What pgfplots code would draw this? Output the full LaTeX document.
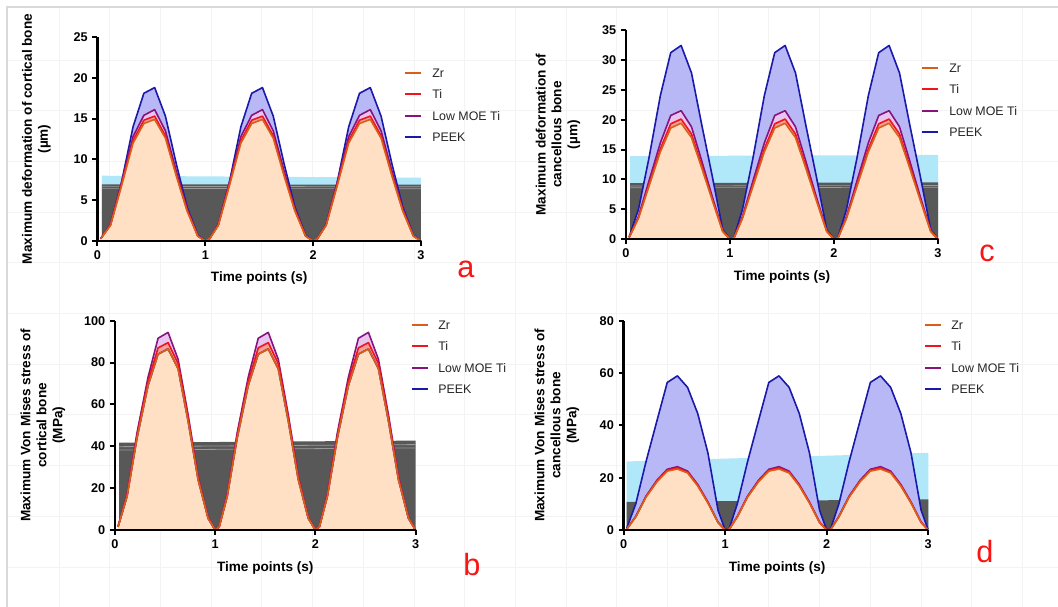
\documentclass[border=0pt]{standalone}
\usepackage{fontspec}
\setmainfont{Liberation Sans}
\usepackage{pgfplots}
\usepackage{pgfplotstable}
\pgfplotsset{compat=1.18}

\definecolor{zrl}{RGB}{215,95,25}
\definecolor{til}{RGB}{240,20,30}
\definecolor{lowl}{RGB}{135,20,125}
\definecolor{peekl}{RGB}{25,25,170}
\definecolor{zrf}{RGB}{255,224,196}
\definecolor{tif}{RGB}{245,160,150}
\definecolor{lowf}{RGB}{232,196,240}
\definecolor{peekf}{RGB}{184,184,246}
\definecolor{bandb}{RGB}{176,232,250}
\definecolor{bandd}{RGB}{88,88,88}
\definecolor{gridc}{RGB}{243,243,243}

% t, Zr, Ti, Low MOE Ti, PEEK
\pgfplotstableread{
t zr ti low peek
0.03 0.3 0.3 0.3 0.3
0.12 1.9 1.95 2.0 2.0
0.22 6.6 6.8 7.0 7.0
0.33 12.0 12.3 12.8 14.0
0.43 14.4 14.8 15.4 18.1
0.53 14.9 15.3 16.1 18.8
0.63 12.6 12.9 13.5 15.3
0.73 8.0 8.2 8.6 9.5
0.83 3.7 3.8 4.0 4.2
0.93 0.6 0.6 0.65 0.7
1.00 0 0 0 0
1.04 0.3 0.3 0.3 0.3
1.12 1.9 1.95 2.0 2.0
1.22 6.6 6.8 7.0 7.0
1.33 12.0 12.3 12.8 14.0
1.43 14.4 14.8 15.4 18.1
1.53 14.9 15.3 16.1 18.8
1.63 12.6 12.9 13.5 15.3
1.73 8.0 8.2 8.6 9.5
1.83 3.7 3.8 4.0 4.2
1.93 0.6 0.6 0.65 0.7
2.00 0 0 0 0
2.04 0.3 0.3 0.3 0.3
2.12 1.9 1.95 2.0 2.0
2.22 6.6 6.8 7.0 7.0
2.33 12.0 12.3 12.8 14.0
2.43 14.4 14.8 15.4 18.1
2.53 14.9 15.3 16.1 18.8
2.63 12.6 12.9 13.5 15.3
2.73 8.0 8.2 8.6 9.5
2.83 3.7 3.8 4.0 4.2
2.93 0.6 0.6 0.65 0.7
3.00 0 0 0 0
}\tA

\pgfplotstableread{
t zr ti low peek
0.03 0.3 0.3 0.3 0.4
0.12 3.5 3.6 3.8 5.0
0.22 8.8 9.1 9.7 13.5
0.33 14.6 15.1 16.1 24.0
0.43 18.6 19.3 20.7 31.2
0.53 19.4 20.1 21.5 32.4
0.63 17.0 17.6 18.8 27.8
0.73 11.8 12.2 13.0 19.0
0.83 6.5 6.7 7.1 10.5
0.93 1.3 1.35 1.4 1.6
1.00 0 0 0 0
1.04 0.3 0.3 0.3 0.4
1.12 3.5 3.6 3.8 5.0
1.22 8.8 9.1 9.7 13.5
1.33 14.6 15.1 16.1 24.0
1.43 18.6 19.3 20.7 31.2
1.53 19.4 20.1 21.5 32.4
1.63 17.0 17.6 18.8 27.8
1.73 11.8 12.2 13.0 19.0
1.83 6.5 6.7 7.1 10.5
1.93 1.3 1.35 1.4 1.6
2.00 0 0 0 0
2.04 0.3 0.3 0.3 0.4
2.12 3.5 3.6 3.8 5.0
2.22 8.8 9.1 9.7 13.5
2.33 14.6 15.1 16.1 24.0
2.43 18.6 19.3 20.7 31.2
2.53 19.4 20.1 21.5 32.4
2.63 17.0 17.6 18.8 27.8
2.73 11.8 12.2 13.0 19.0
2.83 6.5 6.7 7.1 10.5
2.93 1.3 1.35 1.4 1.6
3.00 0 0 0 0
}\tC

\pgfplotstableread{
t zr ti low peek
0.03 1.5 1.5 1.6 1.5
0.12 16 16.5 17 16
0.22 44 45 46.5 44
0.33 69 71 73 69
0.43 84 87 91.6 84
0.53 86.5 89.5 94.4 86.5
0.63 77 79.5 81.5 77
0.73 52 53.5 55 52
0.83 24 24.8 25.5 24
0.93 5.5 5.7 5.9 5.5
1.00 0 0 0 0
1.04 1.5 1.5 1.6 1.5
1.12 16 16.5 17 16
1.22 44 45 46.5 44
1.33 69 71 73 69
1.43 84 87 91.6 84
1.53 86.5 89.5 94.4 86.5
1.63 77 79.5 81.5 77
1.73 52 53.5 55 52
1.83 24 24.8 25.5 24
1.93 5.5 5.7 5.9 5.5
2.00 0 0 0 0
2.04 1.5 1.5 1.6 1.5
2.12 16 16.5 17 16
2.22 44 45 46.5 44
2.33 69 71 73 69
2.43 84 87 91.6 84
2.53 86.5 89.5 94.4 86.5
2.63 77 79.5 81.5 77
2.73 52 53.5 55 52
2.83 24 24.8 25.5 24
2.93 5.5 5.7 5.9 5.5
3.00 0 0 0 0
}\tB

\pgfplotstableread{
t zr ti low peek
0.03 0.3 0.3 0.3 0.6
0.12 5.0 5.1 5.2 10
0.22 12.5 12.7 12.9 26
0.33 18.5 18.8 19.1 42
0.43 22.5 22.8 23.2 56.4
0.53 23.3 23.7 24.2 58.9
0.63 21.8 22.1 22.5 54.5
0.73 16.8 17.1 17.4 44.5
0.83 10.3 10.5 10.7 29.5
0.93 2.8 2.9 3.0 7.5
1.00 0 0 0 0
1.04 0.3 0.3 0.3 0.6
1.12 5.0 5.1 5.2 10
1.22 12.5 12.7 12.9 26
1.33 18.5 18.8 19.1 42
1.43 22.5 22.8 23.2 56.4
1.53 23.3 23.7 24.2 58.9
1.63 21.8 22.1 22.5 54.5
1.73 16.8 17.1 17.4 44.5
1.83 10.3 10.5 10.7 29.5
1.93 2.8 2.9 3.0 7.5
2.00 0 0 0 0
2.04 0.3 0.3 0.3 0.6
2.12 5.0 5.1 5.2 10
2.22 12.5 12.7 12.9 26
2.33 18.5 18.8 19.1 42
2.43 22.5 22.8 23.2 56.4
2.53 23.3 23.7 24.2 58.9
2.63 21.8 22.1 22.5 54.5
2.73 16.8 17.1 17.4 44.5
2.83 10.3 10.5 10.7 29.5
2.93 2.8 2.9 3.0 7.5
3.00 0 0 0 0
}\tD

\pgfplotsset{
  panel/.style={
    scale only axis, axis on top, clip=false, anchor=south west,
    axis lines=left, axis line style={-, line width=1.8pt, black},
    tick align=outside, major tick length=3.8pt,
    tick style={black, line width=1.5pt},
    xmin=0, xmax=3, ymin=0, xtick={0,1,2,3},
    tick label style={font=\bfseries\fontsize{9.5}{10}\selectfont},
    label style={font=\bfseries\fontsize{10.2}{12}\selectfont, align=center},
    /pgf/number format/assume math mode=true,
    xlabel={Time points (s)},
  },
}

\newcommand\series[1]{%
  \addplot[fill=peekf, draw=none] table[x=t,y=peek]{#1} \closedcycle;
  \addplot[fill=lowf, draw=none] table[x=t,y=low]{#1} \closedcycle;
  \addplot[fill=tif, draw=none] table[x=t,y=ti]{#1} \closedcycle;
  \addplot[fill=zrf, draw=none] table[x=t,y=zr]{#1} \closedcycle;
  \addplot[peekl, line width=1.2pt, line join=round] table[x=t,y=peek]{#1};
  \addplot[lowl, line width=1.2pt, line join=round] table[x=t,y=low]{#1};
  \addplot[til, line width=1.2pt, line join=round] table[x=t,y=ti]{#1};
  \addplot[zrl, line width=1.2pt, line join=round] table[x=t,y=zr]{#1};
}

% one legend row: line colour, line x, row y, text x, text (pixel units, y from top)
\newcommand\legrow[5]{%
  \draw[color=#1, line width=1.5pt] (#2,{607-(#3)}) -- ++(16,0);
  \node[anchor=west, inner sep=0pt, font=\fontsize{9.3}{11}\selectfont, text=black!85]
    at (#4,{607-(#3)}) {#5};}
\newcommand\leg[3]{%
  \legrow{zrl}{#1}{#2}{#3}{Zr}
  \legrow{til}{#1}{#2+21}{#3}{Ti}
  \legrow{lowl}{#1}{#2+43}{#3}{Low MOE Ti}
  \legrow{peekl}{#1}{#2+64}{#3}{PEEK}}

\begin{document}
\begin{tikzpicture}
\begin{scope}[x=0.75pt,y=0.75pt]
  \fill[white] (0,0) rectangle (1058,607);
  \path[use as bounding box] (0,0) rectangle (1058,607);
  \foreach \i in {0,...,19} \draw[gridc, line width=0.6pt] ({59+50.7*\i},0) -- ({59+50.7*\i},600);
  \foreach \i in {0,...,10} \draw[gridc, line width=0.6pt] (7,{607-60-50.7*\i}) -- (1058,{607-60-50.7*\i});
  \draw[black!15, line width=0.8pt] (7,0) -- (7,600) -- (1058,600);
\end{scope}

% a
\begin{axis}[panel, at={(73.125pt,274.5pt)}, width=242.6pt, height=153pt,
  ymax=25, ytick={0,5,...,25},
  ylabel={Maximum deformation of cortical bone\\(µm)},
  ylabel style={at={(axis description cs:-0.189,0.5)}, anchor=center},
  xlabel style={at={(axis description cs:0.5,-0.18)}, anchor=center}]
  \addplot[fill=bandb, draw=none] coordinates {(0.04,8.0) (3,7.75)} \closedcycle;
  \addplot[fill=bandd, draw=none] coordinates {(0.04,6.95) (3,6.9)} \closedcycle;
  \addplot[gray!80, line width=0.5pt] coordinates {(0.04,6.7) (3,6.65)};
  \addplot[gray!80, line width=0.5pt] coordinates {(0.04,6.45) (3,6.4)};
  \series{\tA}
\end{axis}

% c
\begin{axis}[panel, at={(469.5pt,275.8pt)}, width=234pt, height=157pt,
  ymax=35, ytick={0,5,...,35},
  ylabel={Maximum deformation of\\cancellous bone\\(µm)},
  ylabel style={at={(axis description cs:-0.218,0.5)}, anchor=center},
  xlabel style={at={(axis description cs:0.5,-0.18)}, anchor=center}]
  \addplot[fill=bandb, draw=none] coordinates {(0.04,13.9) (3,14.1)} \closedcycle;
  \addplot[fill=bandd, draw=none] coordinates {(0.04,9.4) (3,9.5)} \closedcycle;
  \addplot[gray!80, line width=0.5pt] coordinates {(0.04,8.9) (3,9.0)};
  \addplot[gray!80, line width=0.5pt] coordinates {(0.04,8.6) (3,8.7)};
  \series{\tC}
\end{axis}

% b
\begin{axis}[panel, at={(86.25pt,57.75pt)}, width=225.4pt, height=157pt,
  ymax=100, ytick={0,20,...,100},
  ylabel={Maximum Von Mises stress of\\cortical bone\\(MPa)},
  ylabel style={at={(axis description cs:-0.24,0.5)}, anchor=center},
  xlabel style={at={(axis description cs:0.5,-0.18)}, anchor=center}]
  \addplot[fill=bandd, draw=none] coordinates {(0.04,41.7) (3,42.7)} \closedcycle;
  \addplot[gray!80, line width=0.6pt] coordinates {(0.04,39.8) (3,40.8)};
  \addplot[gray!80, line width=0.6pt] coordinates {(0.04,38.2) (3,39.2)};
  \series{\tB}
\end{axis}

% d
\begin{axis}[panel, at={(467.7pt,57.75pt)}, width=228.5pt, height=157pt,
  ymax=80, ytick={0,20,...,80},
  ylabel={Maximum Von Mises stress of\\cancellous bone\\(MPa)},
  ylabel style={at={(axis description cs:-0.219,0.5)}, anchor=center},
  xlabel style={at={(axis description cs:0.504,-0.18)}, anchor=center}]
  \addplot[fill=bandb, draw=none] coordinates {(0.03,26.2) (3,29.5)} \closedcycle;
  \addplot[fill=bandd, draw=none] coordinates {(0.03,10.7) (3,11.7)} \closedcycle;
  \series{\tD}
\end{axis}

\begin{scope}[x=0.75pt,y=0.75pt]
  \leg{405}{73}{432}
  \leg{922}{68}{949}
  \leg{412}{325}{438}
  \leg{925}{325}{951}
  \foreach \l/\x/\y in {a/466/269, c/987/253, b/472/565, d/985/552}
    \node[text={rgb,255:red,250;green,20;blue,20}, font=\fontsize{23}{26}\selectfont, inner sep=0pt] at (\x,{607-\y}) {\l};
\end{scope}
\end{tikzpicture}
\end{document}
